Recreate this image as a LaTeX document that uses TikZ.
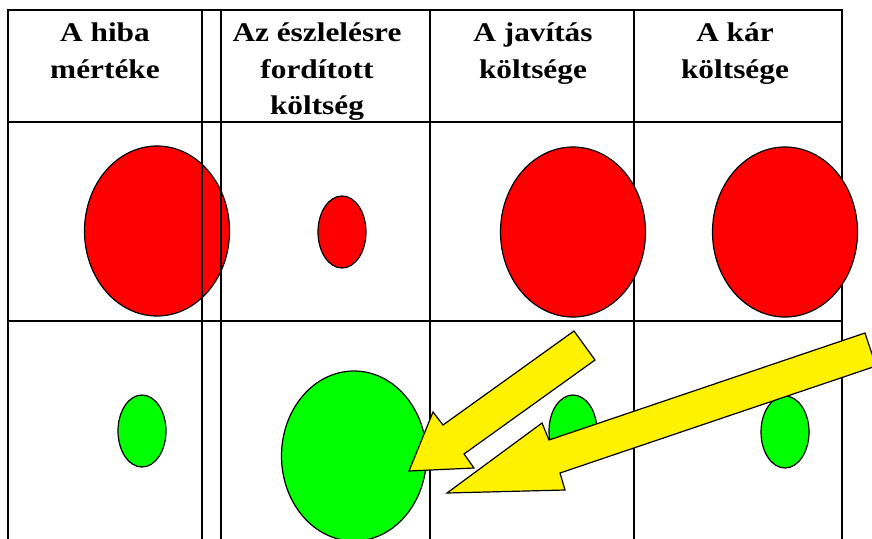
\documentclass[tikz,border=0pt]{standalone}
\usepackage{fontspec}
\setmainfont[FakeStretch=1.16]{Liberation Serif}
\usetikzlibrary{shapes.geometric}

\tikzset{
	bigdisc/.style={ellipse, draw=black, line width=1.2pt, minimum width=145pt, minimum height=170pt, inner sep=0pt},
	smalldisc/.style={ellipse, draw=black, line width=1.2pt, minimum width=48pt, minimum height=72pt, inner sep=0pt},
	head/.style={anchor=north, inner sep=0pt, align=center, font=\fontsize{27}{36.5}\selectfont\bfseries},
	rule/.style={line width=1.5pt},
	pointer/.style={draw=black, fill=yellow, line width=1.2pt, line join=miter}
}

\begin{document}
\begin{tikzpicture}[x=1pt, y=-1pt]

\useasboundingbox (0,0) rectangle (872,538);

\node (dmg1) at (157,231) [bigdisc, fill=red] {};

% table
\draw[rule] (8,540) -- (8,10) -- (842,10) -- (842,540);
\foreach \x in {202,221,430,634}
	\draw[rule] (\x,10) -- (\x,540);
\foreach \y in {122,321}
	\draw[rule] (8,\y) -- (842,\y);

\node (h1) at (105,23) [head] {A hiba\\mértéke};
\node (h2) at (317,23) [head] {Az észlelésre\\fordított\\költség};
\node (h3) at (533,23) [head] {A javítás\\költsége};
\node (h4) at (735,23) [head] {A kár\\költsége};

\node (dmg2) at (342,232) [smalldisc, fill=red] {};
\node (dmg3) at (573,232) [bigdisc, fill=red] {};
\node (dmg4) at (785,232) [bigdisc, fill=red] {};

\node (ok1) at (142,431) [smalldisc, fill=green] {};
\node (ok2) at (354,456) [bigdisc, fill=green] {};
\node (ok3) at (573,431) [smalldisc, fill=green] {};
\node (ok4) at (785,432) [smalldisc, fill=green] {};

\draw[pointer] (574,331) -- (595,360) -- (464,454) -- (474,468) -- (409,471) -- (433,412) -- (443,425) -- cycle;
\draw[pointer] (865,333) -- (876,366) -- (560,473) -- (565,490) -- (447,493) -- (542,423) -- (549,440) -- cycle;

\end{tikzpicture}
\end{document}
